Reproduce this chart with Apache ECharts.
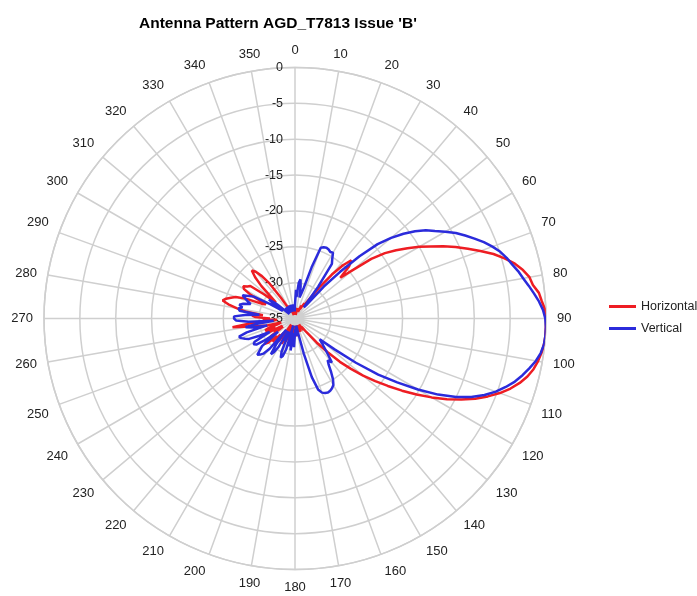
<!DOCTYPE html>
<html><head><meta charset="utf-8">
<script src="https://cdn.jsdelivr.net/npm/echarts@6/dist/echarts.min.js"></script>
<style>html,body{margin:0;padding:0;background:#fff}#c{width:697px;height:596px}</style>
</head><body><div id="c"></div>
<script>
// Bearing (degrees)
const angles = [0,2,4,6,8,10,12,14,16,18,20,22,24,26,28,30,32,34,36,38,40,42,44,46,48,50,52,54,56,58,60,62,64,66,68,70,72,74,76,78,80,82,84,86,88,90,92,94,96,98,100,102,104,106,108,110,112,114,116,118,120,122,124,126,128,130,132,134,136,138,140,142,144,146,148,150,152,154,156,158,160,162,164,166,168,170,172,174,176,178,180,182,184,186,188,190,192,194,196,198,200,202,204,206,208,210,212,214,216,218,220,222,224,226,228,230,232,234,236,238,240,242,244,246,248,250,252,254,256,258,260,262,264,266,268,270,272,274,276,278,280,282,284,286,288,290,292,294,296,298,300,302,304,306,308,310,312,314,316,318,320,322,324,326,328,330,332,334,336,338,340,342,344,346,348,350,352,354,356,358];
// Horizontal polarisation (dB)
const horizontal = [-34.5,-34,-34.5,-33.5,-34,-34.5,-34,-33.5,-34,-33.5,-34,-33.5,-34,-33,-33.5,-33,-32.5,-33,-32,-29.5,-27,-25,-23.7,-24.5,-26.5,-24.5,-21.5,-19.5,-18,-16.5,-15,-13.6,-12,-10.5,-9,-7.5,-5.9,-4.6,-3.4,-2.5,-1.8,-1.5,-0.8,-0.5,-0.1,0,0,0,-0.1,-0.3,-0.6,-1,-1.6,-2.4,-3.4,-4.6,-6,-7.5,-9.2,-11,-13,-15,-17,-19,-20.8,-22.6,-24.5,-26.3,-28.5,-30.5,-32.5,-33.5,-33,-34,-33.5,-34,-33.5,-34,-33,-34,-33.5,-34,-33,-34,-33.5,-33,-34,-32.5,-33.5,-33,-33.5,-32.5,-34,-32,-33,-31.5,-33.5,-32,-34,-32.5,-33,-31.5,-33.5,-32,-31,-32.5,-34,-32,-31,-32.5,-31,-32,-30.5,-31.5,-30,-29.5,-29.3,-31,-33,-31.5,-33,-31,-30.5,-32,-30.5,-31,-32.5,-33,-31,-30,-28.5,-26.2,-29,-32.5,-30.5,-31.5,-29.5,-29,-30.5,-28,-26.8,-25.5,-24.6,-25,-25.6,-26.2,-27.6,-30,-30.5,-28,-26.8,-26.5,-27,-27.3,-29.5,-31.5,-30.5,-28.5,-27,-26,-26.5,-27.5,-29,-31.5,-33.5,-33,-34,-33.5,-34,-33.5,-34.5,-34,-33.5,-34,-34.5,-34,-33.5,-34,-34.5,-34];
// Vertical polarisation (dB)
const vertical = [-33,-31,-32,-30,-29.5,-30.5,-32,-31.5,-30.5,-27.5,-24.5,-24.3,-24.2,-24.3,-24.5,-24.4,-25.2,-25.8,-29.5,-33,-32.5,-29,-26,-22.5,-19.5,-17.5,-15.8,-14.3,-13,-12,-10.8,-9.6,-8.6,-7.6,-6.6,-5.7,-4.9,-4.3,-3.8,-3.2,-2.7,-2.1,-1.5,-0.9,-0.4,-0.1,0,0,-0.1,-0.4,-0.9,-1.6,-2.3,-3.1,-4.1,-5.2,-6.5,-8.1,-10,-12.4,-15.2,-18.2,-21,-24.5,-28,-30.5,-30,-29.5,-28.8,-28,-27,-27.6,-27,-26,-25,-24.3,-24,-23.8,-23.7,-23.8,-24,-24.6,-26.5,-30,-33,-34,-33,-34,-32.5,-33.5,-33,-31,-33,-32,-30.5,-33,-31,-34,-30.5,-29.5,-29.2,-30,-33,-31.5,-33,-30.5,-29.5,-29,-30.5,-33,-29.5,-28.4,-28,-27.7,-27.7,-29,-32,-30,-28.5,-28.2,-28.5,-31,-29.5,-28,-27.5,-27,-26.8,-28,-31,-29,-28,-29.5,-32,-28.5,-26.8,-26.5,-26.5,-28,-30,-27.2,-27,-27.5,-27,-27.5,-28.5,-28,-27.5,-27,-27,-28.5,-31,-33,-32,-30.5,-31.5,-34,-33,-34,-33.5,-34,-33,-34,-33.5,-34,-33,-34,-33.5,-34,-33,-34,-33.5,-34,-33,-34,-33.5,-34,-33,-34,-33.5,-34];
const seriesNames = ['Horizontal', 'Vertical'];

function toPolar(vals) {
  const d = vals.map((v, i) => [v, angles[i]]);
  d.push([vals[0], 360]);
  return d;
}
const font = "'Liberation Sans', Arial, Helvetica, sans-serif";
const chart = echarts.init(document.getElementById('c'), null, {renderer: 'canvas'});
chart.setOption({
  animation: false,
  title: {
    text: "Antenna Pattern AGD_T7813 Issue 'B'",
    left: 134, top: 11,
    textStyle: {fontFamily: font, fontSize: 15.5, fontWeight: 'bold', color: '#000'}
  },
  legend: {
    orient: 'vertical', left: 604, top: 295,
    itemWidth: 27, itemHeight: 3, itemGap: 9, icon: 'rect',
    textStyle: {fontFamily: font, fontSize: 12.5, color: '#222'},
    data: seriesNames
  },
  polar: {center: [295, 318.5], radius: 251},
  angleAxis: {
    type: 'value', min: 0, max: 360, interval: 10, startAngle: 90, clockwise: true,
    axisLine: {lineStyle: {color: '#cfcfcf', width: 1.5}},
    axisTick: {show: false},
    axisLabel: {margin: 11, fontFamily: font, fontSize: 13, color: '#222'},
    splitLine: {lineStyle: {color: '#cfcfcf', width: 1.5}}
  },
  radiusAxis: {
    type: 'value', min: -35, max: 0, interval: 5,
    axisLine: {show: false}, axisTick: {show: false},
    axisLabel: {margin: 12, fontFamily: font, fontSize: 12.5, color: '#222'},
    splitLine: {lineStyle: {color: '#cfcfcf', width: 1.5}}
  },
  series: [
    {name: seriesNames[0], type: 'line', coordinateSystem: 'polar', data: toPolar(horizontal),
     showSymbol: false, lineStyle: {color: '#ee1d23', width: 2.5}, itemStyle: {color: '#ee1d23'}},
    {name: seriesNames[1], type: 'line', coordinateSystem: 'polar', data: toPolar(vertical),
     showSymbol: false, lineStyle: {color: '#2b2bdb', width: 2.5}, itemStyle: {color: '#2b2bdb'}}
  ]
});
</script></body></html>
